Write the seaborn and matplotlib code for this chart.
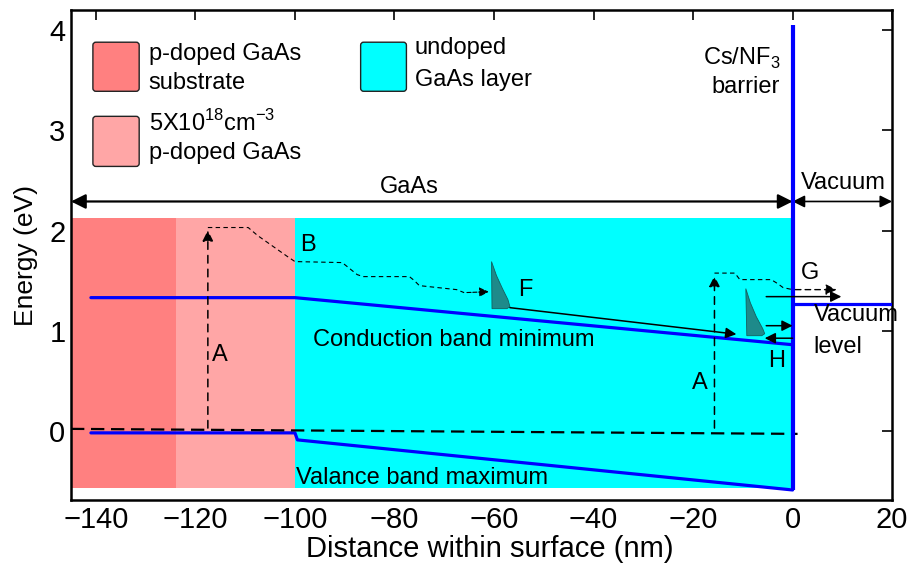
import matplotlib
matplotlib.use("Agg")
import matplotlib.pyplot as plt
import seaborn as sns
import pandas as pd
import numpy as np
from matplotlib.patches import FancyBboxPatch, Polygon

sns.set_theme(style="white")
plt.rcParams['font.family'] = ['Liberation Sans', 'DejaVu Sans']
plt.rcParams['mathtext.fontset'] = 'custom'
plt.rcParams['mathtext.rm'] = 'Liberation Sans'
plt.rcParams['text.color'] = 'black'
plt.rcParams['axes.labelcolor'] = 'black'

# ---------------- data ----------------
cb_x = [-141, -100, 0]
cb_y = [1.33, 1.33, 0.86]
vb_x = [-141, -100, -99.5, 0]
vb_y = [-0.02, -0.02, -0.09, -0.59]
barrier_x = [0, 0]
barrier_y = [-0.59, 4.05]
vac_x = [0, 20]
vac_y = [1.27, 1.27]
fermi_x = [-145, 1]
fermi_y = [0.02, -0.03]

regions = ["substrate", "p-doped", "undoped"]
region_x0 = [-145, -124, -100]
region_x1 = [-124, -100, 0]
region_colors = ["#FF8080", "#FFA6A6", "#00FFFF"]
fill_bottom, fill_top = -0.57, 2.13

# hot electron path 1 (dashed)
path1_x = [-117.5, -109.4, -107.5, -105.5, -103.5, -101.5, -100, -90.5, -89.5, -88.5, -87.5, -86.3, -77, -76, -75, -67.5, -66, -60.5]
path1_y = [2.03, 2.03, 1.95, 1.88, 1.81, 1.74, 1.69, 1.68, 1.64, 1.60, 1.56, 1.54, 1.54, 1.50, 1.45, 1.41, 1.38, 1.39]
excite1_x, excite1_y0, excite1_y1 = -117.5, 0.0, 2.03

# hot electron path 2 (dashed)
path2_x = [-15.7, -11.6, -10.6, -4.3, -3.0, -1.9, 0, 9.4]
path2_y = [1.575, 1.575, 1.51, 1.51, 1.47, 1.43, 1.41, 1.41]
excite2_x, excite2_y0, excite2_y1 = -15.7, 0.0, 1.575

# thermalised distributions
distF_x = [-60.5, -59.5, -58.3, -57.2, -56.8, -57.4, -60.4]
distF_y = [1.69, 1.55, 1.42, 1.31, 1.24, 1.22, 1.22]
distH_x = [-9.4, -8.5, -7.3, -6.0, -5.6, -6.2, -9.2]
distH_y = [1.42, 1.28, 1.14, 1.02, 0.97, 0.95, 0.95]

drift = [(-56.8, 1.23), (-11.3, 0.965)]
emitG = [(-5.3, 1.34), (9.8, 1.34)]
toSurf = [(-5.3, 1.05), (0.0, 1.05)]
backH = [(0.0, 0.925), (-5.6, 0.925)]

xticks = [-140, -120, -100, -80, -60, -40, -20, 0, 20]
yticks = [0, 1, 2, 3, 4]

# ---------------- figure ----------------
fig = plt.figure(figsize=(9.15, 5.64), dpi=100)
ax = fig.add_axes([0.0776, 0.1135, 0.8974, 0.8685])

for x0, x1, c in zip(region_x0, region_x1, region_colors):
    ax.fill_between([x0, x1], fill_bottom, fill_top, color=c, lw=0, zorder=0)

cb = pd.DataFrame({"x": cb_x, "y": cb_y})
vb = pd.DataFrame({"x": vb_x, "y": vb_y})
sns.lineplot(data=cb, x="x", y="y", color="#0000FF", lw=2.3, ax=ax, sort=False, zorder=3)
sns.lineplot(data=vb, x="x", y="y", color="#0000FF", lw=2.3, ax=ax, sort=False, zorder=3)
ax.plot(barrier_x, barrier_y, color="#0000FF", lw=3, zorder=4, solid_capstyle='butt')
ax.plot(vac_x, vac_y, color="#0000FF", lw=2.3, zorder=3)
ax.plot(fermi_x, fermi_y, color="black", lw=1.6, ls=(0, (6, 3)), zorder=3)

# dashed paths
ax.plot(path1_x[:-1], path1_y[:-1], color="black", lw=0.8, ls=(0, (4, 3)), zorder=5)
ax.annotate("", xy=(path1_x[-1], path1_y[-1]), xytext=(path1_x[-2], path1_y[-2]),
            arrowprops=dict(arrowstyle="-|>", color="black", lw=0.8, ls="--", mutation_scale=14), zorder=5)
ax.annotate("", xy=(excite1_x, excite1_y1), xytext=(excite1_x, excite1_y0),
            arrowprops=dict(arrowstyle="-|>", color="black", lw=1.1, ls=(0, (5, 4)), mutation_scale=16), zorder=5)
ax.plot(path2_x[:-1], path2_y[:-1], color="black", lw=0.8, ls=(0, (4, 3)), zorder=5)
ax.annotate("", xy=(path2_x[-1], path2_y[-1]), xytext=(path2_x[-2], path2_y[-2]),
            arrowprops=dict(arrowstyle="-|>", color="black", lw=1.0, ls=(0, (4, 3)), mutation_scale=16), zorder=5)
ax.annotate("", xy=(excite2_x, excite2_y1), xytext=(excite2_x, excite2_y0),
            arrowprops=dict(arrowstyle="-|>", color="black", lw=1.1, ls=(0, (5, 4)), mutation_scale=16), zorder=5)

for xs, ys in [(distF_x, distF_y), (distH_x, distH_y)]:
    ax.add_patch(Polygon(np.column_stack([xs, ys]), closed=True, facecolor="#1E8A8A",
                         edgecolor="#116060", lw=0.6, zorder=6))

for (p0, p1) in [drift, emitG, toSurf, backH]:
    ax.annotate("", xy=p1, xytext=p0,
                arrowprops=dict(arrowstyle="-|>", color="black", lw=1.1, mutation_scale=16,
                                shrinkA=0, shrinkB=0), zorder=6)

# GaAs / Vacuum extents
ax.annotate("", xy=(-145, 2.29), xytext=(0, 2.29),
            arrowprops=dict(arrowstyle="<|-|>", color="black", lw=1.6, mutation_scale=22,
                            shrinkA=0, shrinkB=0))
ax.annotate("", xy=(0, 2.29), xytext=(20, 2.29),
            arrowprops=dict(arrowstyle="<|-|>", color="black", lw=1.2, mutation_scale=18,
                            shrinkA=0, shrinkB=0))

fs = 17
ax.text(-77, 2.43, "GaAs", fontsize=fs, ha="center", va="center")
ax.text(10.2, 2.47, "Vacuum", fontsize=fs, ha="center", va="center")
ax.text(-2.4, 3.72, "Cs/NF$_3$", fontsize=fs, ha="right", va="center")
ax.text(-2.6, 3.43, "barrier", fontsize=fs, ha="right", va="center")
ax.text(-115, 0.76, "A", fontsize=fs, ha="center", va="center")
ax.text(-18.7, 0.48, "A", fontsize=fs, ha="center", va="center")
ax.text(-97.4, 1.86, "B", fontsize=fs, ha="center", va="center")
ax.text(-53.8, 1.41, "F", fontsize=fs, ha="center", va="center")
ax.text(3.4, 1.58, "G", fontsize=fs, ha="center", va="center")
ax.text(-3.3, 0.70, "H", fontsize=fs, ha="center", va="center")
ax.text(4.2, 1.16, "Vacuum", fontsize=fs, ha="left", va="center")
ax.text(4.2, 0.84, "level", fontsize=fs, ha="left", va="center")
ax.text(-96.4, 0.91, "Conduction band minimum", fontsize=fs, ha="left", va="center")
ax.text(-99.8, -0.47, "Valance band maximum", fontsize=fs, ha="left", va="center")

# legend-like boxes
leg_boxes = [(-140.6, 3.39, 9.3, 0.49, "#FF8080"), (-140.6, 2.64, 9.3, 0.50, "#FFA6A6"),
             (-86.8, 3.39, 9.2, 0.49, "#00FFFF")]
for bx, by, bw, bh, c in leg_boxes:
    ax.add_patch(FancyBboxPatch((bx, by), bw, bh, boxstyle="round,pad=0,rounding_size=0.6",
                                mutation_aspect=0.05, facecolor=c, edgecolor="#222222", lw=1.0, zorder=7))
ax.text(-129.4, 3.76, "p-doped GaAs", fontsize=fs, va="center")
ax.text(-129.4, 3.47, "substrate", fontsize=fs, va="center")
ax.text(-129.4, 3.07, "5X10$^{18}$cm$^{-3}$", fontsize=fs, va="center")
ax.text(-129.4, 2.77, "p-doped GaAs", fontsize=fs, va="center")
ax.text(-75.9, 3.82, "undoped", fontsize=fs, va="center")
ax.text(-75.9, 3.50, "GaAs layer", fontsize=fs, va="center")

ax.set_xlim(-145, 20)
ax.set_ylim(-0.69, 4.2)
ax.set_xticks(xticks)
ax.set_yticks(yticks)
ax.set_xticklabels([f"{t}".replace("-", "\u2212") for t in xticks])
ax.tick_params(direction="in", top=True, right=True, length=7, width=1.2, labelsize=21,
               pad=4, colors="black")
for s in ax.spines.values():
    s.set_color("black")
    s.set_linewidth(1.8)
ax.set_xlabel("")
fig.text(0.535, 0.026, "Distance within surface (nm)", fontsize=21, ha="center", va="center")
ax.set_ylabel("Energy (eV)", fontsize=19, labelpad=8)

fig.savefig("out.png", dpi=100)
